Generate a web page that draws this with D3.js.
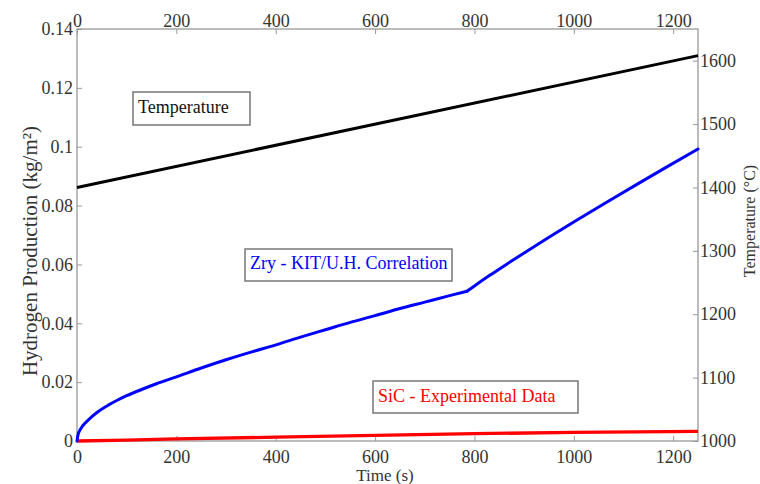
<!DOCTYPE html>
<html>
<head>
<meta charset="utf-8">
<script src="https://cdn.jsdelivr.net/npm/d3@7"></script>
<style>
  body { margin: 0; background: #fff; }
  svg { display: block; }
  text { font-family: "Liberation Serif", "Times New Roman", serif; fill: #333; }
</style>
</head>
<body>
<div id="chart"></div>
<script>
// ---- data ----
const timeTicks = [0, 200, 400, 600, 800, 1000, 1200];
const h2Ticks = [0, 0.02, 0.04, 0.06, 0.08, 0.1, 0.12, 0.14];
const h2TickLabels = ["0", "0.02", "0.04", "0.06", "0.08", "0.1", "0.12", "0.14"];
const tempTicks = [1000, 1100, 1200, 1300, 1400, 1500, 1600];

const tempTime = [0, 1250];
const tempValues = [1400, 1608];

// Zry correlation: parabolic phase up to the kink, then second phase
const zryTime1 =   [0, 2, 5, 10, 16, 30, 45, 63, 80, 100, 130, 160, 197, 250, 300, 350, 399, 450, 500, 550, 600, 650, 700, 750, 785];
const zryValues1 = [0, 0.0021, 0.0034, 0.0048, 0.0060, 0.0083, 0.0103, 0.0122, 0.01375, 0.0154, 0.0175, 0.01945, 0.0216, 0.0248, 0.0276, 0.0302, 0.0326, 0.0353, 0.0378, 0.0403, 0.0426, 0.0450, 0.0472, 0.0494, 0.0509];
const zryTime2 =   [785, 800, 830, 865, 900, 950, 999, 1066, 1133, 1190, 1250];
const zryValues2 = [0.0509, 0.0527, 0.0562, 0.0601, 0.0639, 0.0692, 0.0743, 0.0811, 0.0878, 0.0934, 0.0992];

const sicTime =   [0, 100, 200, 400, 600, 800, 1000, 1250];
const sicValues = [0, 0.0003, 0.0007, 0.0013, 0.0019, 0.0025, 0.0029, 0.0033];

const labels = ["Temperature", "Zry - KIT/U.H. Correlation", "SiC - Experimental Data"];

(function () {
// ---- layout ----
const W = 760, H = 484;
const m = { left: 77, top: 29, right: 62, bottom: 43 };
const pw = W - m.left - m.right, ph = H - m.top - m.bottom;

const svg = d3.select("#chart").append("svg").attr("width", W).attr("height", H);
const g = svg.append("g").attr("transform", `translate(${m.left},${m.top})`);

const x = d3.scaleLinear().domain([0, 1250]).range([0, pw]);
const yL = d3.scaleLinear().domain([0, 0.14]).range([ph, 0]);
const yR = d3.scaleLinear().domain([1000, 1650]).range([ph, 0]);

const axisColor = "#999";
const fs = 18;

function styleAxis(sel) {
  sel.select(".domain").remove();
  sel.selectAll(".tick line").attr("stroke", axisColor).attr("stroke-width", 1);
  sel.selectAll(".tick text").style("font-size", fs + "px").attr("fill", "#333");
}

// frame
g.append("rect").attr("width", pw).attr("height", ph)
  .attr("fill", "none").attr("stroke", axisColor).attr("stroke-width", 1.3);

// axes with inward ticks
const axB = g.append("g").attr("transform", `translate(0,${ph})`)
  .call(d3.axisBottom(x).tickValues(timeTicks).tickSizeInner(-5).tickSizeOuter(0).tickPadding(9).tickFormat(d3.format("d")));
styleAxis(axB);

const axT = g.append("g")
  .call(d3.axisTop(x).tickValues(timeTicks).tickSizeInner(-5).tickSizeOuter(0).tickPadding(2).tickFormat(d3.format("d")));
styleAxis(axT);

const axL = g.append("g")
  .call(d3.axisLeft(yL).tickValues(h2Ticks).tickSizeInner(-5).tickSizeOuter(0).tickPadding(4)
    .tickFormat((d, i) => h2TickLabels[i]));
styleAxis(axL);

const axR = g.append("g").attr("transform", `translate(${pw},0)`)
  .call(d3.axisRight(yR).tickValues(tempTicks).tickSizeInner(-5).tickSizeOuter(0).tickPadding(2).tickFormat(d3.format("d")));
styleAxis(axR);

// lines
const lineL = d3.line().x(d => x(d[0])).y(d => yL(d[1]));
const lineLs = d3.line().x(d => x(d[0])).y(d => yL(d[1])).curve(d3.curveMonotoneX);
const lineR = d3.line().x(d => x(d[0])).y(d => yR(d[1]));

g.append("path").datum(sicTime.map((t, i) => [t, sicValues[i]]))
  .attr("d", lineL).attr("fill", "none").attr("stroke", "#ff0000").attr("stroke-width", 3.3);
[[zryTime1, zryValues1], [zryTime2, zryValues2]].forEach(([ts, vs]) => {
  g.append("path").datum(ts.map((t, i) => [t, vs[i]]))
    .attr("d", lineLs).attr("fill", "none").attr("stroke", "#0000ff")
    .attr("stroke-width", 3).attr("stroke-linecap", "round");
});
g.append("path").datum(tempTime.map((t, i) => [t, tempValues[i]]))
  .attr("d", lineR).attr("fill", "none").attr("stroke", "#000").attr("stroke-width", 3);

// text boxes (absolute positions)
function textBox(txt, x0, y0, w, h, color, tx, ty) {
  svg.append("rect").attr("x", x0).attr("y", y0).attr("width", w).attr("height", h)
    .attr("fill", "#fff").attr("stroke", "#777").attr("stroke-width", 1.5);
  svg.append("text").attr("x", tx).attr("y", ty).style("font-size", fs + "px")
    .style("fill", color).text(txt);
}
textBox(labels[0], 133, 92, 117, 33, "#111", 138, 113);
textBox(labels[1], 245, 249, 207, 32, "#0000ff", 250, 269);
textBox(labels[2], 373, 381, 205, 32, "#ff0000", 378, 402);

// axis titles
svg.append("text").attr("x", 385).attr("y", 481).attr("text-anchor", "middle")
  .style("font-size", "17px").text("Time (s)");
svg.append("text").attr("transform", `translate(37,251) rotate(-90)`)
  .attr("text-anchor", "middle").style("font-size", "21px").text("Hydrogen Production (kg/m²)");
svg.append("text").attr("transform", `translate(755,221) rotate(-90)`)
  .attr("text-anchor", "middle").style("font-size", "16px").text("Temperature (°C)");
})();
</script>
</body>
</html>
